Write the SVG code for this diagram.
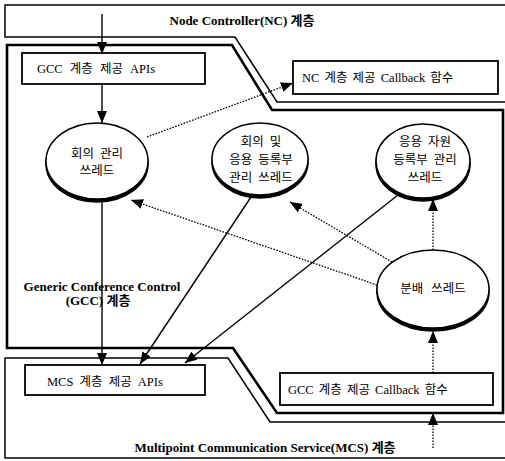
<svg xmlns="http://www.w3.org/2000/svg" width="505" height="461" viewBox="0 0 505 461">
<defs>
<marker id="ah" viewBox="0 0 12 10" refX="12" refY="5" markerWidth="12" markerHeight="10" markerUnits="userSpaceOnUse" orient="auto">
<path d="M0,0 L12,5 L0,10 Z" fill="#000"/>
</marker>
<style>
.thin{fill:none;stroke:#000;stroke-width:1.5}
.thick{fill:none;stroke:#000;stroke-width:2.6}
.box{fill:#fff;stroke:#000;stroke-width:1.8}
.sh{fill:#000;stroke:#000;stroke-width:1.5}
.el{fill:#fff;stroke:#000;stroke-width:1.5}
.solid{fill:none;stroke:#000;stroke-width:1.4}
.dot{fill:none;stroke:#000;stroke-width:1.3;stroke-dasharray:1.6 1.4}
text{font-family:"Liberation Serif","Noto Sans CJK KR",serif;font-size:12.5px;fill:#000}
.b{font-weight:bold;font-size:13px}
.c{text-anchor:middle}
</style>
</defs>
<rect width="505" height="461" fill="#fff"/>
<g id="layers">
<path class="thin" d="M505,5 L5,5 L5,37 L235,37 L277,102 L505,102"/>
<path class="thick" d="M503,110 L272,110 L232,45 L7,45 L7,348 L233,348 L277,413 L503,413 Z"/>
<path class="thin" d="M505,422 L270,422 L228,358 L5,358 L5,458 L505,458"/>
<text class="b c" x="242" y="25">Node Controller(NC) 계층</text>
<text class="b c" x="102" y="291">Generic Conference Control</text>
<text class="b c" x="98" y="305">(GCC) 계층</text>
<text class="b c" x="265" y="452">Multipoint Communication Service(MCS) 계층</text>
</g>
<g id="gcc-api">
<rect class="box" x="22" y="53" width="183" height="31"/>
<text x="37" y="73" word-spacing="4">GCC 계층 제공 APIs</text>
</g>
<g id="nc-callback">
<rect class="box" x="293" y="61" width="205" height="33"/>
<text x="302" y="82" word-spacing="2">NC 계층 제공 Callback 함수</text>
</g>
<g id="mcs-api">
<rect class="box" x="25" y="365" width="180" height="30"/>
<text x="47" y="386" word-spacing="3">MCS 계층 제공 APIs</text>
</g>
<g id="gcc-callback">
<rect class="box" x="280" y="373" width="213" height="32"/>
<text x="288" y="394" word-spacing="2">GCC 계층 제공 Callback 함수</text>
</g>
<g id="conf-thread">
<ellipse class="sh" cx="97" cy="164" rx="51" ry="38"/>
<ellipse class="el" cx="97" cy="161" rx="51" ry="38"/>
<text class="c" x="97" y="158" word-spacing="3">회의 관리</text>
<text class="c" x="97" y="175">쓰레드</text>
</g>
<g id="reg-thread">
<ellipse class="sh" cx="260" cy="162" rx="48" ry="36"/>
<ellipse class="el" cx="260" cy="159" rx="48" ry="36"/>
<text class="c" x="261" y="146" word-spacing="3">회의 및</text>
<text class="c" x="261" y="164" word-spacing="3">응용 등록부</text>
<text class="c" x="261" y="182" word-spacing="3">관리 쓰레드</text>
</g>
<g id="res-thread">
<ellipse class="sh" cx="423" cy="164" rx="47" ry="37"/>
<ellipse class="el" cx="423" cy="161" rx="47" ry="37"/>
<text class="c" x="425" y="146" word-spacing="3">응용 자원</text>
<text class="c" x="425" y="164" word-spacing="3">등록부 관리</text>
<text class="c" x="425" y="182">쓰레드</text>
</g>
<g id="dist-thread">
<ellipse class="sh" cx="433" cy="292" rx="56" ry="39"/>
<ellipse class="el" cx="433" cy="289" rx="56" ry="39"/>
<text class="c" x="433" y="293" word-spacing="5">분배 쓰레드</text>
</g>
<g id="connectors">
<line class="solid" x1="102" y1="14" x2="102" y2="54" marker-end="url(#ah)"/>
<line class="solid" x1="102" y1="84" x2="102" y2="123" marker-end="url(#ah)"/>
<line class="solid" x1="102" y1="202" x2="102" y2="365" marker-end="url(#ah)"/>
<line class="solid" x1="251" y1="197" x2="140" y2="364" marker-end="url(#ah)"/>
<line class="solid" x1="398" y1="195" x2="185" y2="363" marker-end="url(#ah)"/>
<line class="dot" x1="147" y1="137" x2="293" y2="83" marker-end="url(#ah)"/>
<line class="dot" x1="377" y1="285" x2="131" y2="200" marker-end="url(#ah)"/>
<line class="dot" x1="392" y1="262" x2="290" y2="202" marker-end="url(#ah)"/>
<line class="dot" x1="433" y1="250" x2="433" y2="199" marker-end="url(#ah)"/>
<line class="dot" x1="433" y1="373" x2="433" y2="331" marker-end="url(#ah)"/>
<line class="dot" x1="433" y1="448" x2="433" y2="413" marker-end="url(#ah)"/>
</g>
</svg>
